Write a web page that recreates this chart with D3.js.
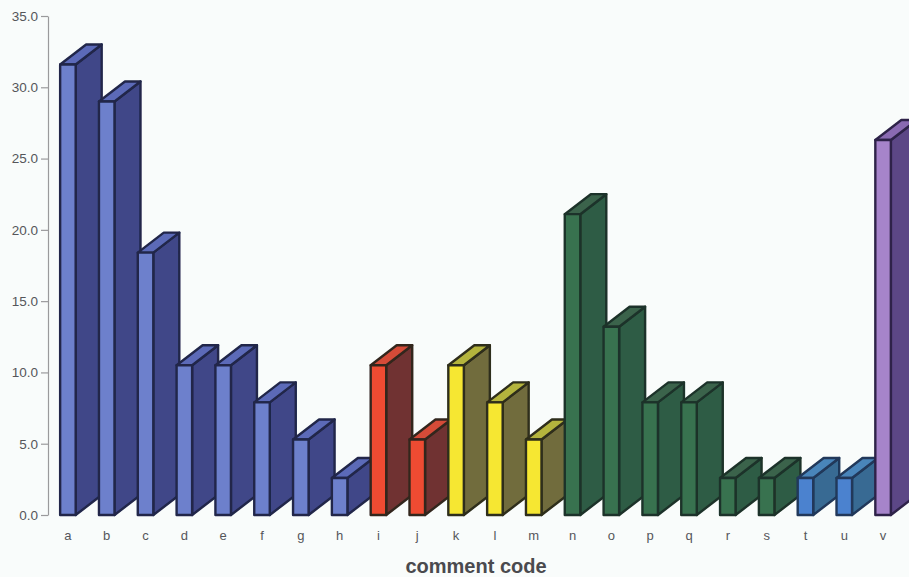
<!DOCTYPE html>
<html><head><meta charset="utf-8">
<script src="https://cdn.jsdelivr.net/npm/d3@7"></script>
<style>html,body{margin:0;padding:0;background:#f9fcfb;overflow:hidden}
text{font-family:"Liberation Sans",Arial,sans-serif}</style></head>
<body><svg id="c" width="909" height="577"></svg>
<script>
const categories=["a","b","c","d","e","f","g","h","i","j","k","l","m","n","o","p","q","r","s","t","u","v"];
const values=[31.6,29.0,18.4,10.5,10.5,7.9,5.3,2.6,10.5,5.3,10.5,7.9,5.3,21.1,13.2,7.9,7.9,2.6,2.6,2.6,2.6,26.3];
const groups=["blue","blue","blue","blue","blue","blue","blue","blue","red","red","yellow","yellow","yellow","green","green","green","green","green","green","sky","sky","purple"];
const yTicks=[0,5,10,15,20,25,30,35];
const palette={
 blue:{front:"#6d80cc",side:"#3f4788",top:"#5b6bb8",edge:"#20264a"},
 red:{front:"#ee4c32",side:"#6f3230",top:"#d44c38",edge:"#33261f"},
 yellow:{front:"#f6e733",side:"#716c3c",top:"#b4b43e",edge:"#2e2d1a"},
 green:{front:"#37724f",side:"#2e5c44",top:"#3a634c",edge:"#1e3329"},
 sky:{front:"#4c82cf",side:"#376b93",top:"#4a85ba",edge:"#20385a"},
 purple:{front:"#a684ca",side:"#5b4686",top:"#8a6bb2",edge:"#2e2448"}
};
const svg=d3.select("#c");
const defs=svg.append("defs");
defs.append("filter").attr("id","soft").append("feGaussianBlur").attr("stdDeviation",0.7);
const y=d3.scaleLinear().domain([0,35]).range([515,16]);
const x=d3.scaleBand().domain(categories).range([48.5,902.5]).paddingInner(0.6).paddingOuter(0.3);
const dx=26,dy=20;
const data=categories.map((c,i)=>({c,v:values[i],g:palette[groups[i]]}));
const marks=svg.append("g").attr("filter","url(#soft)").attr("stroke-linejoin","round");
const pt=a=>a.map(p=>p.join(",")).join(" ");
const bar=marks.selectAll("g").data(data).join("g").attr("stroke",d=>d.g.edge).attr("stroke-width",2.4);
bar.append("polygon").attr("fill",d=>d.g.side).attr("points",d=>{
  const r=x(d.c)+x.bandwidth(),b=y(0),t=y(d.v);
  return pt([[r,b],[r+dx,b-dy],[r+dx,t-dy],[r,t]]);});
bar.append("polygon").attr("fill",d=>d.g.top).attr("points",d=>{
  const l=x(d.c),r=l+x.bandwidth(),t=y(d.v);
  return pt([[l,t],[l+dx,t-dy],[r+dx,t-dy],[r,t]]);});
bar.append("rect").attr("fill",d=>d.g.front).attr("x",d=>x(d.c)).attr("width",x.bandwidth())
  .attr("y",d=>y(d.v)).attr("height",d=>y(0)-y(d.v));
const yAxis=svg.append("g").attr("transform","translate(48,0)")
  .call(d3.axisLeft(y).tickValues(yTicks).tickFormat(d3.format(".1f")).tickSize(7).tickSizeOuter(0));
yAxis.select(".domain").attr("stroke","#9a9a9c").attr("stroke-width",1.2);
yAxis.selectAll("line").attr("stroke","#9a9a9c").attr("stroke-width",1.2);
yAxis.selectAll("text").attr("font-size",13.5).attr("fill","#55565a").attr("x",-10);
const xAxis=svg.append("g").attr("transform","translate(0,515)")
  .call(d3.axisBottom(x).tickSize(0).tickPadding(16).tickFormat(d=>d));
xAxis.select(".domain").remove();
xAxis.selectAll("text").attr("font-size",13).attr("fill","#55565a");
svg.append("text").attr("x",476).attr("y",573).attr("text-anchor","middle")
  .attr("font-size",20).attr("font-weight","bold").attr("fill","#4a4a4e").text("comment code");
</script></body></html>
